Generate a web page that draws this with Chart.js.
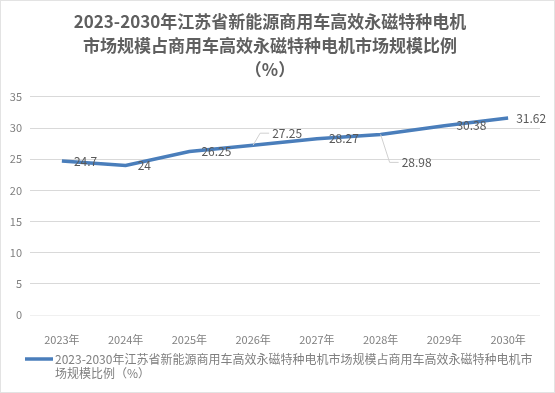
<!DOCTYPE html>
<html>
<head>
<meta charset="utf-8">
<script src="https://cdn.jsdelivr.net/npm/chart.js@4/dist/chart.umd.min.js"></script>
<style>
  body { margin: 0; background: #fff; }
  #wrap { width: 555px; height: 393px; position: relative; }
</style>
</head>
<body>
<div id="wrap"><canvas id="chart"></canvas></div>
<script>
// chart data
const years = ['2023年', '2024年', '2025年', '2026年', '2027年', '2028年', '2029年', '2030年'];
const shareValues = [24.7, 24, 26.25, 27.25, 28.27, 28.98, 30.38, 31.62];
const seriesName = '2023-2030年江苏省新能源商用车高效永磁特种电机市场规模占商用车高效永磁特种电机市场规模比例（%）';
const titleLines = ['2023-2030年江苏省新能源商用车高效永磁特种电机', '市场规模占商用车高效永磁特种电机市场规模比例', '（%）'];
const legendLines = ['2023-2030年江苏省新能源商用车高效永磁特种电机市场规模占商用车高效永磁特种电机市', '场规模比例（%）'];

// label nudges (px) relative to default "right of point"; true = draw leader line
const labelShift = [[0, 0], [0, 0], [0, 0], [7, -12], [0, 0], [9, 28], [0, 0], [-4, 0]];
const labelLeader = [false, false, false, true, false, true, false, false];

const FONT = "'Noto Sans CJK SC', 'Noto Sans', sans-serif";
const LINE_COLOR = '#4a7ebb';

// Draws value labels next to each point (Excel style)
const valueLabels = {
  id: 'valueLabels',
  afterDatasetsDraw(chart) {
    const ctx = chart.ctx;
    const meta = chart.getDatasetMeta(0);
    ctx.save();
    ctx.font = '12px ' + FONT;
    ctx.fillStyle = '#595959';
    ctx.textBaseline = 'middle';
    ctx.textAlign = 'left';
    meta.data.forEach((pt, i) => {
      const tx = pt.x + 12 + labelShift[i][0];
      const ty = pt.y + labelShift[i][1];
      if (labelLeader[i]) {
        ctx.strokeStyle = '#d0d0d0';
        ctx.lineWidth = 1;
        ctx.beginPath();
        ctx.moveTo(pt.x, pt.y);
        const kx = tx - 12;
        ctx.lineTo(kx, ty);
        ctx.lineTo(tx - 3, ty);
        ctx.stroke();
      }
      ctx.fillText(String(shareValues[i]), tx, ty);
    });
    ctx.restore();
  }
};

// Custom legend under the axis, wrapped like the original
const bottomLegend = {
  id: 'bottomLegend',
  afterDraw(chart) {
    const ctx = chart.ctx;
    const y0 = chart.chartArea.bottom + 44;
    ctx.save();
    ctx.strokeStyle = LINE_COLOR;
    ctx.lineWidth = 3.5;
    ctx.beginPath();
    ctx.moveTo(25, y0);
    ctx.lineTo(53, y0);
    ctx.stroke();
    ctx.font = '12px ' + FONT;
    ctx.fillStyle = '#7f7f7f';
    ctx.textBaseline = 'middle';
    ctx.fillText(legendLines[0], 55, y0);
    ctx.fillText(legendLines[1], 55, y0 + 14);
    // chart border
    ctx.strokeStyle = '#e3e3e3';
    ctx.lineWidth = 1;
    ctx.strokeRect(0.5, 0.5, chart.width - 1, chart.height - 1);
    ctx.restore();
  }
};

new Chart(document.getElementById('chart'), {
  type: 'line',
  data: {
    labels: years,
    datasets: [{
      label: seriesName,
      data: shareValues,
      borderColor: LINE_COLOR,
      backgroundColor: LINE_COLOR,
      borderWidth: 3.5,
      pointRadius: 0,
      tension: 0,
      fill: false
    }]
  },
  options: {
    responsive: true,
    maintainAspectRatio: false,
    animation: false,
    layout: { padding: { top: 0, left: 0, right: 15, bottom: 48 } },
    plugins: {
      legend: { display: false },
      tooltip: { enabled: false },
      title: {
        display: true,
        text: titleLines,
        color: '#5f5f5f',
        font: { family: FONT, size: 17, weight: 'bold', lineHeight: 1.39 },
        padding: { top: 10, bottom: 16 }
      }
    },
    scales: {
      x: {
        offset: true,
        grid: { display: false },
        border: { display: false },
        ticks: { color: '#7f7f7f', font: { family: FONT, size: 11 }, padding: 10, maxRotation: 0 },
        afterFit(scale) { scale.height = 30; }
      },
      y: {
        min: 0,
        max: 35,
        ticks: { stepSize: 5, color: '#7f7f7f', font: { family: FONT, size: 11 }, padding: 8 },
        grid: {
          color: (c) => (c.tick && c.tick.value === 0 ? '#f0f0f0' : '#d9d9d9'),
          drawTicks: false
        },
        border: { display: false },
        afterFit(scale) { scale.width = 30; }
      }
    }
  },
  plugins: [valueLabels, bottomLegend]
});
</script>
</body>
</html>
